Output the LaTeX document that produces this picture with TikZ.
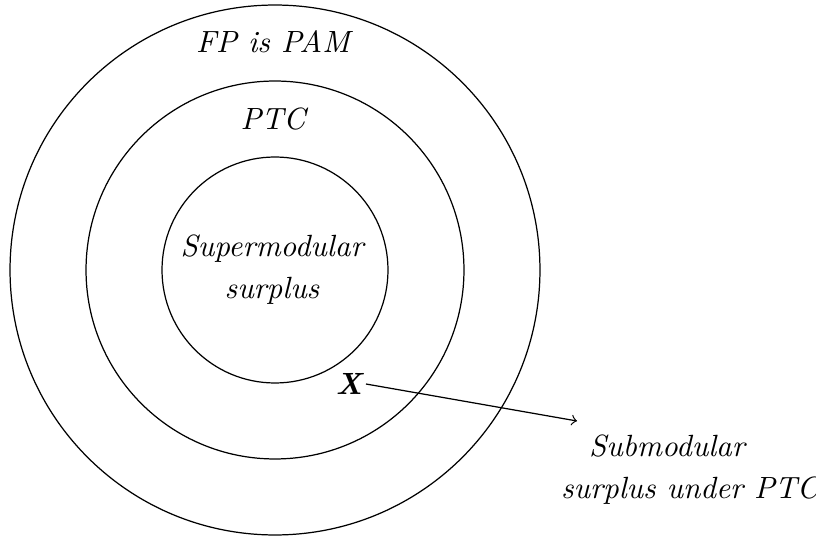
\documentclass[tikz,border=0pt]{standalone}
\usepackage{tikz}
\usetikzlibrary{positioning}

\begin{document}
\begin{tikzpicture}[
			x=0.3257pt, y=-0.3257pt,
			ring/.style = {draw, circle, inner sep=0pt},
			lbl/.style = {align=center, inner sep=0pt, font=\itshape}
		]
		\useasboundingbox (0,0) rectangle (816,538);
		% Draw the three rings.
		\node[ring, minimum size=172.6pt] (outer) at (275,270) {};
		\node[ring, minimum size=123.1pt] (middle) at (275,270) {};
		\node[ring, minimum size=73.6pt] (inner) at (275,270) {};
		% Draw the labels.
		\node[lbl, anchor=base] (fp) at (273,53) {FP is PAM};
		\node[lbl, anchor=base] (ptc) at (273,130) {PTC};
		\node[lbl] (sup) at (272,270) {Supermodular \\[1.7pt] surplus};
		\node[inner sep=1pt, font=\bfseries\itshape] (x) at (349,384) {X};
		\node[lbl] (sub) at (690,470) {Submodular\hspace*{15pt} \\[1.7pt] surplus under PTC};
		\coordinate (tip) at (577,421);
		\draw[->] (x.east) -- (tip);
	\end{tikzpicture}
\end{document}
